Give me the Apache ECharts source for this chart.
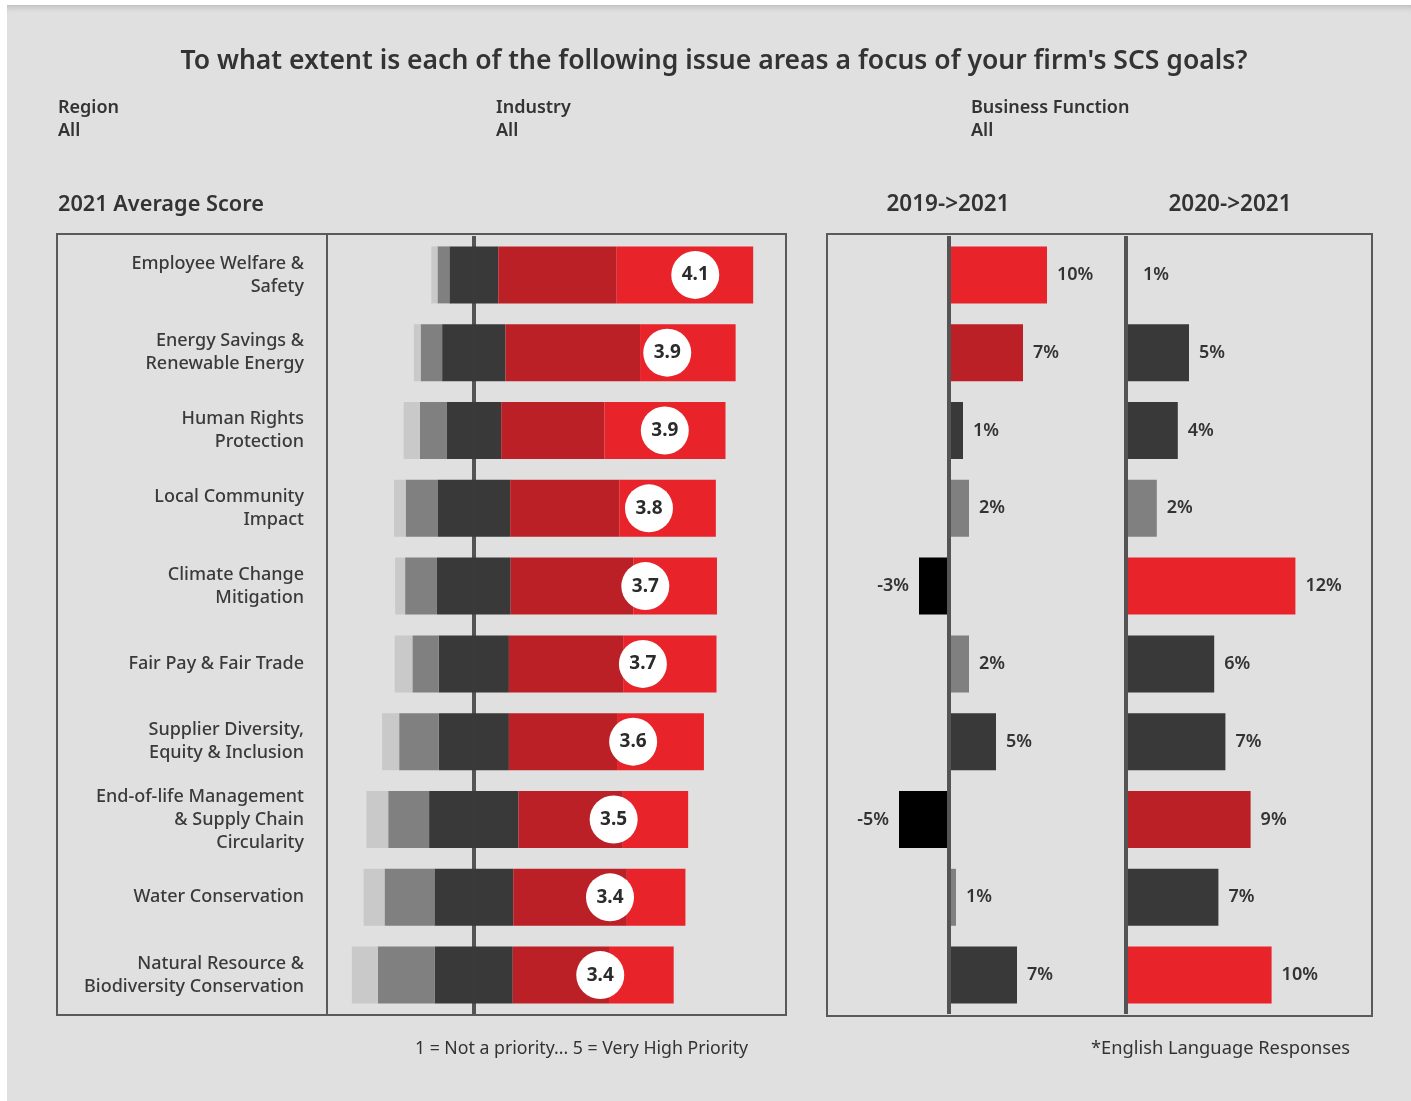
<!DOCTYPE html>
<html>
<head>
<meta charset="utf-8">
<script src="https://cdn.jsdelivr.net/npm/echarts@6/dist/echarts.min.js"></script>
<style>
  html, body { margin: 0; padding: 0; background: #ffffff; width: 1411px; height: 1101px; overflow: hidden; }
  #bg { position: absolute; left: 7px; top: 5px; width: 1404px; height: 1096px; background: #e0e0e0;
        box-shadow: inset 0 7px 6px -5px rgba(0,0,0,0.18); }
  #chart { position: absolute; left: 0; top: 0; width: 1411px; height: 1101px; }
</style>
</head>
<body>
<div id="bg"></div>
<div id="chart"></div>
<script>
// Issue areas, top to bottom
const issues = [
  'Employee Welfare &\nSafety',
  'Energy Savings &\nRenewable Energy',
  'Human Rights\nProtection',
  'Local Community\nImpact',
  'Climate Change\nMitigation',
  'Fair Pay & Fair Trade',
  'Supplier Diversity,\nEquity & Inclusion',
  'End-of-life Management\n& Supply Chain\nCircularity',
  'Water Conservation',
  'Natural Resource &\nBiodiversity Conservation'
];

// Share of responses (%) for each priority level, 1 = Not a priority ... 5 = Very High Priority
const priority1 = [1.9, 2.1, 5.0, 3.6, 3.1, 5.5, 5.3, 6.8, 6.5, 8.1];
const priority2 = [3.7, 6.7, 8.3, 9.9, 9.9, 8.2, 12.3, 12.7, 15.5, 17.7];
const priority3 = [15.2, 19.7, 17.0, 22.6, 22.9, 21.8, 21.8, 27.8, 24.5, 24.2];
const priority4 = [36.8, 41.8, 32.1, 33.9, 38.1, 35.5, 33.6, 32.4, 35.3, 29.9];
const priority5 = [42.4, 29.7, 37.6, 30.0, 26.0, 29.0, 27.0, 20.3, 18.2, 20.1];

// 2021 average score
const averageScore = [4.14, 3.91, 3.89, 3.76, 3.73, 3.71, 3.63, 3.47, 3.44, 3.36];

// Change in share (percentage points)
const change2019to2021 = [9.8, 7.4, 1.4, 2.0, -3.0, 2.0, 4.7, -5.0, 0.7, 6.8];
const tone2019to2021 = ['red', 'darkRed', 'dark', 'gray', 'black', 'gray', 'dark', 'black', 'gray', 'dark'];
const change2020to2021 = [0.5, 4.5, 3.7, 2.2, 12.1, 6.3, 7.1, 8.9, 6.6, 10.4];
const tone2020to2021 = ['none', 'dark', 'dark', 'gray', 'red', 'dark', 'dark', 'darkRed', 'dark', 'red'];

const COLORS = {
  light: '#c9c9c9', gray: '#808080', dark: '#393939', darkRed: '#bb2026', red: '#e8232a',
  black: '#000000', none: '#e0e0e0'
};
const FONT = "'Noto Sans', 'Open Sans', sans-serif";
const TEXT = '#333333';
const FRAME = '#5a5a5a';

// layout
const TOP = 236, HEIGHT = 778;
const LIKERT = { left: 329, width: 457, min: -45, max: 97 };
const SCORE = { min: 1.133, max: 4.885 };
const PANEL_A = { left: 827, width: 299, min: -12.2, max: 17.7 };
const PANEL_B = { left: 1126, width: 245, min: 0, max: 17.5 };

const chart = echarts.init(document.getElementById('chart'), null, { renderer: 'canvas' });

function zeroLine(z) {
  return {
    silent: true, symbol: 'none', animation: false, z,
    label: { show: false },
    lineStyle: { color: '#545454', width: 4, type: 'solid' },
    emphasis: { disabled: true },
    data: [{ xAxis: 0 }]
  };
}

function likertSeries(name, values, color, sign) {
  return {
    name, type: 'bar', stack: 'likert', xAxisIndex: 0, yAxisIndex: 0,
    barWidth: 57, silent: true, z: 3,
    itemStyle: { color },
    data: values.map(v => sign * v)
  };
}

function changeSeries(values, tones, xIdx, yIdx) {
  return {
    type: 'bar', xAxisIndex: xIdx, yAxisIndex: yIdx, barWidth: 57, silent: true,
    data: values.map((v, i) => ({
      value: v,
      itemStyle: { color: COLORS[tones[i]] },
      label: { position: v < 0 ? 'left' : 'right' }
    })),
    label: {
      show: true, distance: 10,
      formatter: p => Math.round(p.value) + '%',
      fontFamily: FONT, fontSize: 18, fontWeight: 600, color: TEXT
    },
    markLine: zeroLine(5),
    z: 3
  };
}

const hiddenCat = (gridIndex) => ({
  type: 'category', gridIndex, data: issues, inverse: true,
  axisLine: { show: false }, axisTick: { show: false }, axisLabel: { show: false }, splitLine: { show: false }
});
const hiddenVal = (gridIndex, cfg) => ({
  type: 'value', gridIndex, min: cfg.min, max: cfg.max,
  axisLine: { show: false }, axisTick: { show: false }, axisLabel: { show: false }, splitLine: { show: false }
});

const headerText = (x, y, text, size, weight, align) => ({
  type: 'text', x, y, silent: true,
  style: { text, fill: TEXT, font: `${weight} ${size}px ${FONT}`, textAlign: align || 'left', textVerticalAlign: 'middle' }
});

const option = {
  animation: false,
  backgroundColor: 'transparent',
  grid: [
    { left: LIKERT.left, width: LIKERT.width, top: TOP, height: HEIGHT },
    { left: PANEL_A.left, width: PANEL_A.width, top: TOP, height: HEIGHT },
    { left: PANEL_B.left, width: PANEL_B.width, top: TOP, height: HEIGHT }
  ],
  xAxis: [
    hiddenVal(0, LIKERT),
    hiddenVal(0, SCORE),
    hiddenVal(1, PANEL_A),
    hiddenVal(2, PANEL_B)
  ],
  yAxis: [
    {
      type: 'category', gridIndex: 0, data: issues, inverse: true,
      axisLine: { show: false }, axisTick: { show: false }, splitLine: { show: false },
      axisLabel: {
        margin: 25, fontFamily: FONT, fontSize: 18, fontWeight: 500, color: '#3a3a3a',
        lineHeight: 23, align: 'right', padding: [5, 0, 0, 0]
      }
    },
    hiddenCat(1),
    hiddenCat(2)
  ],
  series: [
    // centre line of the diverging bars, drawn underneath them
    {
      type: 'line', xAxisIndex: 0, yAxisIndex: 0, data: [], silent: true, z: 0,
      markLine: zeroLine(0)
    },
    likertSeries('3 (left half)', priority3.map(v => v / 2), COLORS.dark, -1),
    likertSeries('3 (right half)', priority3.map(v => v / 2), COLORS.dark, 1),
    likertSeries('4', priority4, COLORS.darkRed, 1),
    likertSeries('5', priority5, COLORS.red, 1),
    likertSeries('2', priority2, COLORS.gray, -1),
    likertSeries('1', priority1, COLORS.light, -1),
    {
      type: 'scatter', xAxisIndex: 1, yAxisIndex: 0, silent: true,
      symbol: 'circle', symbolSize: 48,
      itemStyle: { color: '#ffffff', opacity: 1 },
      label: {
        show: true, position: 'inside',
        formatter: p => p.value[0].toFixed(1),
        fontFamily: FONT, fontSize: 19, fontWeight: 700, color: '#2b2b2b'
      },
      data: averageScore.map((s, i) => [s, issues[i]]),
      z: 5
    },
    changeSeries(change2019to2021, tone2019to2021, 2, 1),
    changeSeries(change2020to2021, tone2020to2021, 3, 2)
  ],
  graphic: [
    headerText(714, 61, "To what extent is each of the following issue areas a focus of your firm's SCS goals?", 26.5, 600, 'center'),
    headerText(58, 108, 'Region', 18, 600),
    headerText(58, 131, 'All', 18, 600),
    headerText(496, 108, 'Industry', 18, 600),
    headerText(496, 131, 'All', 18, 600),
    headerText(971, 108, 'Business Function', 18, 600),
    headerText(971, 131, 'All', 18, 600),
    headerText(58, 205, '2021 Average Score', 21.7, 600),
    headerText(948, 205, '2019->2021', 22.5, 600, 'center'),
    headerText(1230, 205, '2020->2021', 22.5, 600, 'center'),
    headerText(581.5, 1049, '1 = Not a priority... 5 = Very High Priority', 17.7, 400, 'center'),
    headerText(1220.5, 1049, '*English Language Responses', 18.3, 400, 'center'),
    {
      type: 'rect', silent: true, z: 10,
      shape: { x: 57, y: 234, width: 729, height: 781 },
      style: { fill: 'none', stroke: FRAME, lineWidth: 2 }
    },
    {
      type: 'line', silent: true, z: 10,
      shape: { x1: 327, y1: 234, x2: 327, y2: 1015 },
      style: { stroke: FRAME, lineWidth: 2 }
    },
    {
      type: 'rect', silent: true, z: 10,
      shape: { x: 827, y: 234, width: 545, height: 782 },
      style: { fill: 'none', stroke: FRAME, lineWidth: 2 }
    }
  ]
};

chart.setOption(option);
</script>
</body>
</html>
